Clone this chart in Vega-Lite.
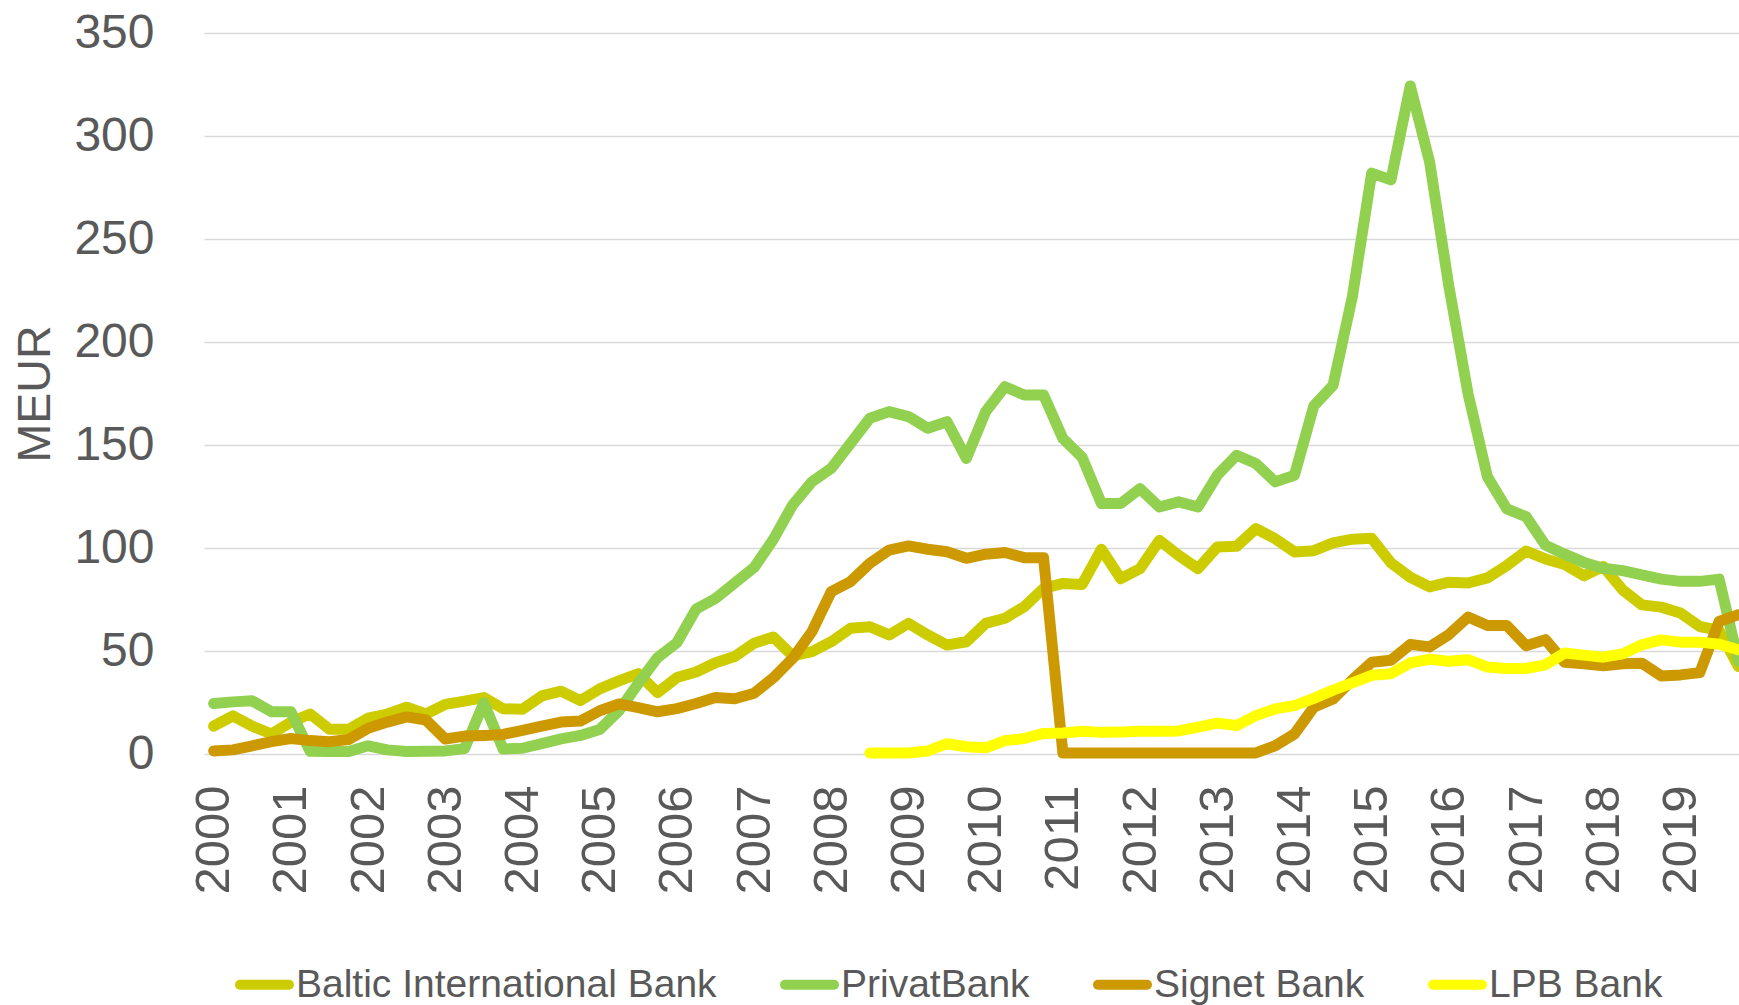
{
  "$schema": "https://vega.github.io/schema/vega-lite/v6.json",
  "width": 1535,
  "height": 721,
  "autosize": {"type": "none"},
  "padding": {"left": 204, "top": 33, "right": 0, "bottom": 251},
  "background": "white",
  "config": {"view": {"stroke": null}, "font": "Liberation Sans"},
  "data": {"values": [
    {"t": 2000, "Baltic International Bank": 13.5, "PrivatBank": 24.5, "Signet Bank": 1.5, "LPB Bank": null},
    {"t": 2000.25, "Baltic International Bank": 18.5, "PrivatBank": 25.3, "Signet Bank": 2, "LPB Bank": null},
    {"t": 2000.5, "Baltic International Bank": 13.5, "PrivatBank": 25.8, "Signet Bank": 4, "LPB Bank": null},
    {"t": 2000.75, "Baltic International Bank": 9.7, "PrivatBank": 20.5, "Signet Bank": 6, "LPB Bank": null},
    {"t": 2001, "Baltic International Bank": 15.5, "PrivatBank": 20.5, "Signet Bank": 7.5, "LPB Bank": null},
    {"t": 2001.25, "Baltic International Bank": 19.4, "PrivatBank": 1.3, "Signet Bank": 6.5, "LPB Bank": null},
    {"t": 2001.5, "Baltic International Bank": 12, "PrivatBank": 1.2, "Signet Bank": 6, "LPB Bank": null},
    {"t": 2001.75, "Baltic International Bank": 12, "PrivatBank": 1.2, "Signet Bank": 7, "LPB Bank": null},
    {"t": 2002, "Baltic International Bank": 17.4, "PrivatBank": 4, "Signet Bank": 12.5, "LPB Bank": null},
    {"t": 2002.25, "Baltic International Bank": 19.4, "PrivatBank": 2, "Signet Bank": 15.5, "LPB Bank": null},
    {"t": 2002.5, "Baltic International Bank": 22.7, "PrivatBank": 1.2, "Signet Bank": 18, "LPB Bank": null},
    {"t": 2002.75, "Baltic International Bank": 19.4, "PrivatBank": 1.3, "Signet Bank": 16.5, "LPB Bank": null},
    {"t": 2003, "Baltic International Bank": 24.1, "PrivatBank": 1.5, "Signet Bank": 7.3, "LPB Bank": null},
    {"t": 2003.25, "Baltic International Bank": 25.7, "PrivatBank": 2.6, "Signet Bank": 8.7, "LPB Bank": null},
    {"t": 2003.5, "Baltic International Bank": 27.4, "PrivatBank": 24.8, "Signet Bank": 9, "LPB Bank": null},
    {"t": 2003.75, "Baltic International Bank": 22, "PrivatBank": 2.4, "Signet Bank": 9.5, "LPB Bank": null},
    {"t": 2004, "Baltic International Bank": 21.7, "PrivatBank": 2.8, "Signet Bank": 11.5, "LPB Bank": null},
    {"t": 2004.25, "Baltic International Bank": 28.2, "PrivatBank": 5, "Signet Bank": 13.5, "LPB Bank": null},
    {"t": 2004.5, "Baltic International Bank": 30.5, "PrivatBank": 7.3, "Signet Bank": 15.5, "LPB Bank": null},
    {"t": 2004.75, "Baltic International Bank": 25.9, "PrivatBank": 9, "Signet Bank": 16, "LPB Bank": null},
    {"t": 2005, "Baltic International Bank": 31.6, "PrivatBank": 11.9, "Signet Bank": 21, "LPB Bank": null},
    {"t": 2005.25, "Baltic International Bank": 35.5, "PrivatBank": 21, "Signet Bank": 24.3, "LPB Bank": null},
    {"t": 2005.5, "Baltic International Bank": 39, "PrivatBank": 34.2, "Signet Bank": 22.5, "LPB Bank": null},
    {"t": 2005.75, "Baltic International Bank": 29.8, "PrivatBank": 46.8, "Signet Bank": 20.5, "LPB Bank": null},
    {"t": 2006, "Baltic International Bank": 37.1, "PrivatBank": 54, "Signet Bank": 22, "LPB Bank": null},
    {"t": 2006.25, "Baltic International Bank": 39.8, "PrivatBank": 70.4, "Signet Bank": 24.5, "LPB Bank": null},
    {"t": 2006.5, "Baltic International Bank": 44.3, "PrivatBank": 75.5, "Signet Bank": 27.4, "LPB Bank": null},
    {"t": 2006.75, "Baltic International Bank": 47.3, "PrivatBank": 83, "Signet Bank": 26.8, "LPB Bank": null},
    {"t": 2007, "Baltic International Bank": 53.8, "PrivatBank": 90.5, "Signet Bank": 29.5, "LPB Bank": null},
    {"t": 2007.25, "Baltic International Bank": 56.8, "PrivatBank": 104.2, "Signet Bank": 37, "LPB Bank": null},
    {"t": 2007.5, "Baltic International Bank": 47.6, "PrivatBank": 120.9, "Signet Bank": 46.4, "LPB Bank": null},
    {"t": 2007.75, "Baltic International Bank": 49.7, "PrivatBank": 132.2, "Signet Bank": 59.4, "LPB Bank": null},
    {"t": 2008, "Baltic International Bank": 54.5, "PrivatBank": 138.7, "Signet Bank": 78.8, "LPB Bank": null},
    {"t": 2008.25, "Baltic International Bank": 61, "PrivatBank": 150.8, "Signet Bank": 83.7, "LPB Bank": null},
    {"t": 2008.5, "Baltic International Bank": 61.8, "PrivatBank": 163, "Signet Bank": 92.6, "LPB Bank": 0.5},
    {"t": 2008.75, "Baltic International Bank": 57.8, "PrivatBank": 166.2, "Signet Bank": 99, "LPB Bank": 0.5},
    {"t": 2009, "Baltic International Bank": 63.4, "PrivatBank": 163.8, "Signet Bank": 101, "LPB Bank": 0.5},
    {"t": 2009.25, "Baltic International Bank": 57.8, "PrivatBank": 158.1, "Signet Bank": 99.4, "LPB Bank": 1.5},
    {"t": 2009.5, "Baltic International Bank": 52.9, "PrivatBank": 161.3, "Signet Bank": 98.2, "LPB Bank": 5},
    {"t": 2009.75, "Baltic International Bank": 54.5, "PrivatBank": 143.5, "Signet Bank": 95, "LPB Bank": 3.5},
    {"t": 2010, "Baltic International Bank": 63.4, "PrivatBank": 166.2, "Signet Bank": 97, "LPB Bank": 3},
    {"t": 2010.25, "Baltic International Bank": 65.9, "PrivatBank": 178.3, "Signet Bank": 97.8, "LPB Bank": 6.5},
    {"t": 2010.5, "Baltic International Bank": 71.5, "PrivatBank": 174.3, "Signet Bank": 95.3, "LPB Bank": 7.5},
    {"t": 2010.75, "Baltic International Bank": 80.4, "PrivatBank": 174.3, "Signet Bank": 95.3, "LPB Bank": 10},
    {"t": 2011, "Baltic International Bank": 82.8, "PrivatBank": 153.2, "Signet Bank": 0.5, "LPB Bank": 10.2},
    {"t": 2011.25, "Baltic International Bank": 82.3, "PrivatBank": 144, "Signet Bank": 0.5, "LPB Bank": 11},
    {"t": 2011.5, "Baltic International Bank": 99.4, "PrivatBank": 121.6, "Signet Bank": 0.5, "LPB Bank": 10.5},
    {"t": 2011.75, "Baltic International Bank": 85.1, "PrivatBank": 121.6, "Signet Bank": 0.5, "LPB Bank": 10.7},
    {"t": 2012, "Baltic International Bank": 90, "PrivatBank": 128.8, "Signet Bank": 0.5, "LPB Bank": 11},
    {"t": 2012.25, "Baltic International Bank": 103.7, "PrivatBank": 119.9, "Signet Bank": 0.5, "LPB Bank": 11},
    {"t": 2012.5, "Baltic International Bank": 96.4, "PrivatBank": 122.4, "Signet Bank": 0.5, "LPB Bank": 11.2},
    {"t": 2012.75, "Baltic International Bank": 90, "PrivatBank": 119.9, "Signet Bank": 0.5, "LPB Bank": 13},
    {"t": 2013, "Baltic International Bank": 100.5, "PrivatBank": 135.3, "Signet Bank": 0.5, "LPB Bank": 15},
    {"t": 2013.25, "Baltic International Bank": 100.8, "PrivatBank": 145, "Signet Bank": 0.5, "LPB Bank": 13.8},
    {"t": 2013.5, "Baltic International Bank": 109.4, "PrivatBank": 141, "Signet Bank": 0.5, "LPB Bank": 18.6},
    {"t": 2013.75, "Baltic International Bank": 104.5, "PrivatBank": 132.1, "Signet Bank": 4, "LPB Bank": 21.9},
    {"t": 2014, "Baltic International Bank": 98.1, "PrivatBank": 135.3, "Signet Bank": 9.7, "LPB Bank": 23.5},
    {"t": 2014.25, "Baltic International Bank": 98.7, "PrivatBank": 168.9, "Signet Bank": 22.7, "LPB Bank": 27},
    {"t": 2014.5, "Baltic International Bank": 102.5, "PrivatBank": 179, "Signet Bank": 26.7, "LPB Bank": 31},
    {"t": 2014.75, "Baltic International Bank": 104.3, "PrivatBank": 222, "Signet Bank": 36, "LPB Bank": 34.5},
    {"t": 2015, "Baltic International Bank": 104.7, "PrivatBank": 282, "Signet Bank": 44.5, "LPB Bank": 38.2},
    {"t": 2015.25, "Baltic International Bank": 92.8, "PrivatBank": 278.7, "Signet Bank": 45.5, "LPB Bank": 39},
    {"t": 2015.5, "Baltic International Bank": 85.8, "PrivatBank": 324.3, "Signet Bank": 53.2, "LPB Bank": 44.2},
    {"t": 2015.75, "Baltic International Bank": 81.1, "PrivatBank": 287.4, "Signet Bank": 52, "LPB Bank": 46},
    {"t": 2016, "Baltic International Bank": 83.4, "PrivatBank": 227, "Signet Bank": 58, "LPB Bank": 45},
    {"t": 2016.25, "Baltic International Bank": 83, "PrivatBank": 174.6, "Signet Bank": 66.5, "LPB Bank": 45.8},
    {"t": 2016.5, "Baltic International Bank": 85.5, "PrivatBank": 134.5, "Signet Bank": 62.4, "LPB Bank": 42.2},
    {"t": 2016.75, "Baltic International Bank": 91.5, "PrivatBank": 119, "Signet Bank": 62.4, "LPB Bank": 41.5},
    {"t": 2017, "Baltic International Bank": 98.5, "PrivatBank": 115.2, "Signet Bank": 52.6, "LPB Bank": 41.5},
    {"t": 2017.25, "Baltic International Bank": 94.7, "PrivatBank": 101.4, "Signet Bank": 55.5, "LPB Bank": 43.3},
    {"t": 2017.5, "Baltic International Bank": 92, "PrivatBank": 97, "Signet Bank": 44.5, "LPB Bank": 49},
    {"t": 2017.75, "Baltic International Bank": 86.5, "PrivatBank": 93, "Signet Bank": 43.8, "LPB Bank": 48},
    {"t": 2018, "Baltic International Bank": 91, "PrivatBank": 90.2, "Signet Bank": 42.8, "LPB Bank": 47},
    {"t": 2018.25, "Baltic International Bank": 79.7, "PrivatBank": 89, "Signet Bank": 43.8, "LPB Bank": 48.6},
    {"t": 2018.5, "Baltic International Bank": 72.4, "PrivatBank": 87, "Signet Bank": 44.1, "LPB Bank": 53},
    {"t": 2018.75, "Baltic International Bank": 71.3, "PrivatBank": 84.9, "Signet Bank": 37.9, "LPB Bank": 55.4},
    {"t": 2019, "Baltic International Bank": 68.4, "PrivatBank": 83.8, "Signet Bank": 38.4, "LPB Bank": 54.3},
    {"t": 2019.25, "Baltic International Bank": 61.9, "PrivatBank": 83.8, "Signet Bank": 39.5, "LPB Bank": 54.3},
    {"t": 2019.5, "Baltic International Bank": 60, "PrivatBank": 84.9, "Signet Bank": 64.3, "LPB Bank": 53.3},
    {"t": 2019.75, "Baltic International Bank": 42.5, "PrivatBank": 45, "Signet Bank": 67.6, "LPB Bank": 50.6}
  ]},
  "transform": [
    {"fold": ["Baltic International Bank", "PrivatBank", "Signet Bank", "LPB Bank"], "as": ["bank", "v"]}
  ],
  "mark": {"type": "line", "strokeWidth": 11, "strokeCap": "round", "strokeJoin": "round"},
  "encoding": {
    "x": {
      "field": "t", "type": "quantitative",
      "scale": {"domain": [1999.875, 2019.758], "nice": false, "zero": false},
      "axis": {
        "title": null,
        "values": [2000, 2001, 2002, 2003, 2004, 2005, 2006, 2007, 2008, 2009, 2010, 2011, 2012, 2013, 2014, 2015, 2016, 2017, 2018, 2019],
        "format": "d", "labelAngle": -90, "labelFontSize": 49, "labelFont": "Liberation Sans",
        "labelColor": "#595959", "labelPadding": 31, "ticks": false, "domain": false, "grid": false,
        "labelFlush": false, "labelOverlap": false, "labelBound": false
      }
    },
    "y": {
      "field": "v", "type": "quantitative",
      "scale": {"domain": [0, 350], "nice": false, "zero": true},
      "axis": {
        "title": "MEUR",
        "values": [0, 50, 100, 150, 200, 250, 300, 350],
        "labelFontSize": 48, "labelFont": "Liberation Sans", "labelColor": "#595959", "labelPadding": 50,
        "ticks": false, "domain": false, "grid": true, "gridColor": "#d9d9d9", "gridWidth": 1.3,
        "titleFontSize": 46.5, "titleFont": "Liberation Sans", "titleFontWeight": "normal", "titleColor": "#595959",
        "titleX": -155, "titleY": 360.5, "titleBaseline": "alphabetic", "titleAngle": -90, "titleAlign": "center",
        "labelFlush": false, "labelOverlap": false
      }
    },
    "color": {
      "field": "bank", "type": "nominal",
      "scale": {
        "domain": ["Baltic International Bank", "PrivatBank", "Signet Bank", "LPB Bank"],
        "range": ["#CCCC00", "#92D050", "#CC9900", "#FFFF00"]
      },
      "legend": {
        "title": null, "orient": "none", "legendX": 31, "legendY": 922,
        "direction": "horizontal", "columns": 4, "columnPadding": 48, "padding": 0,
        "symbolType": "stroke", "symbolSize": 2401, "symbolStrokeWidth": 10,
        "labelFontSize": 39, "labelFont": "Liberation Sans", "labelColor": "#595959",
        "labelOffset": 2, "labelLimit": 1000,
        "encode": {"symbols": {"update": {"strokeCap": {"value": "round"}}}}
      }
    }
  }
}
